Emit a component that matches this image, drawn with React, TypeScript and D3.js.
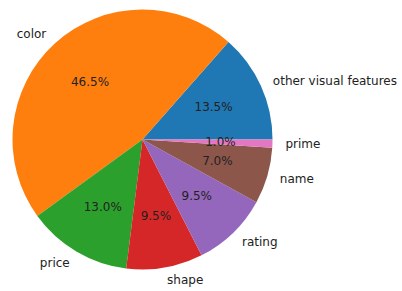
import { useEffect, useRef } from "react";
import * as d3 from "d3";

const labels = ["other visual features", "color", "price", "shape", "rating", "name", "prime"];
const values = [13.5, 46.5, 13.0, 9.5, 9.5, 7.0, 1.0];
const colors = ["#1f77b4", "#ff7f0e", "#2ca02c", "#d62728", "#9467bd", "#8c564b", "#e377c2"];

const App = () => {
    const chartRef = useRef<SVGSVGElement>(null);

    useEffect(() => {
        const svg = d3.select(chartRef.current);
        svg.selectAll("*").remove();

        const width = 402;
        const height = 291;
        const cx = 142.5;
        const cy = 139.5;
        const r = 130;

        svg.attr("width", width).attr("height", height);

        const data = labels.map((label, i) => ({ label, value: values[i], color: colors[i] }));

        // matplotlib style: counterclockwise starting at 3 o'clock
        const pie = d3
            .pie<{ label: string; value: number; color: string }>()
            .sort(null)
            .value((d) => d.value)
            .startAngle(Math.PI / 2)
            .endAngle(Math.PI / 2 - 2 * Math.PI);

        const arcs = pie(data);
        const arc = d3
            .arc<d3.PieArcDatum<{ label: string; value: number; color: string }>>()
            .innerRadius(0)
            .outerRadius(r);

        const g = svg.append("g").attr("transform", `translate(${cx},${cy})`);

        g.selectAll("path")
            .data(arcs)
            .join("path")
            .attr("d", arc)
            .attr("fill", (d) => d.data.color);

        const mid = (d: d3.PieArcDatum<any>) => (d.startAngle + d.endAngle) / 2;

        // category labels
        g.selectAll("text.label")
            .data(arcs)
            .join("text")
            .attr("class", "label")
            .attr("x", (d) => Math.sin(mid(d)) * r * 1.1)
            .attr("y", (d) => -Math.cos(mid(d)) * r * 1.1)
            .attr("text-anchor", (d) => (Math.sin(mid(d)) >= 0 ? "start" : "end"))
            .attr("dominant-baseline", "central")
            .attr("font-family", "DejaVu Sans, sans-serif")
            .attr("font-size", 12)
            .attr("fill", "#222")
            .text((d) => d.data.label);

        // percentage labels
        g.selectAll("text.pct")
            .data(arcs)
            .join("text")
            .attr("class", "pct")
            .attr("x", (d) => Math.sin(mid(d)) * r * 0.6)
            .attr("y", (d) => -Math.cos(mid(d)) * r * 0.6)
            .attr("text-anchor", "middle")
            .attr("dominant-baseline", "central")
            .attr("font-family", "DejaVu Sans, sans-serif")
            .attr("font-size", 12)
            .attr("fill", "#222")
            .text((d) => `${d.data.value.toFixed(1)}%`);
    }, []);

    return (
        <div style={{ position: "absolute", left: 0, top: 0 }}>
            <svg ref={chartRef}></svg>
        </div>
    );
};

export default App;
